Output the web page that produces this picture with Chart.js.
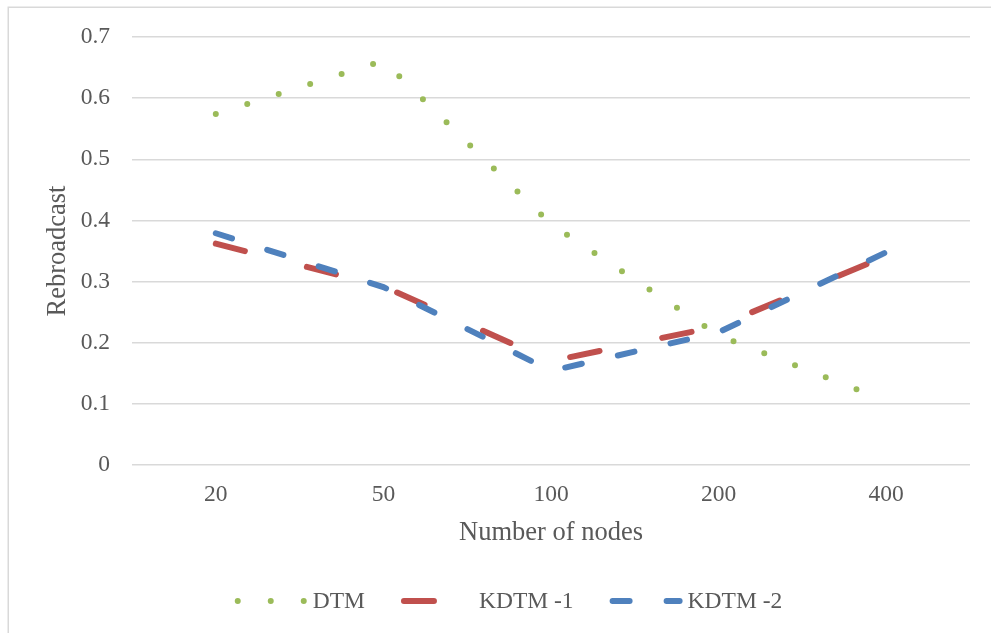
<!DOCTYPE html>
<html><head><meta charset="utf-8">
<script src="https://cdn.jsdelivr.net/npm/chart.js@4.4.0/dist/chart.umd.min.js"></script>
<style>html,body{margin:0;padding:0;background:#fff;overflow:hidden}canvas{display:block}</style>
</head><body>
<canvas id="c" width="991" height="633"></canvas>
<script>
// ---- data ----
const categories = ['20', '50', '100', '200', '400'];
const dtmValues = [0.574, 0.661, 0.394, 0.212, 0.105];
const kdtm1Values = [0.362, 0.292, 0.170, 0.227, 0.342];
const kdtm2Values = [0.379, 0.291, 0.154, 0.217, 0.348];
const seriesNames = ['DTM', 'KDTM -1', 'KDTM -2'];
const xTitle = 'Number of nodes';
const yTitle = 'Rebroadcast';
const yMin = 0, yMax = 0.7, yStep = 0.1;

const FONT = "'Liberation Serif', 'Times New Roman', serif";
const TEXT = '#595959';
const GRID = '#d9d9d9';

const framePlugin = {
  id: 'frame',
  beforeDraw(chart) {
    const ctx = chart.ctx;
    ctx.save();
    ctx.fillStyle = '#fff';
    ctx.fillRect(0, 0, chart.width, chart.height);
    ctx.strokeStyle = GRID;
    ctx.lineWidth = 1.5;
    ctx.strokeRect(8.25, 7.25, chart.width + 100, chart.height + 100);
    ctx.restore();
  }
};

const legendPlugin = {
  id: 'customLegend',
  afterDraw(chart) {
    const ctx = chart.ctx;
    ctx.save();
    ctx.font = '23.5px ' + FONT;
    const sample = 70, textGap = 8, itemGap = 36, lineY = 601, textY = 602;
    const dsets = chart.data.datasets;
    const widths = dsets.map(ds => sample + textGap + ctx.measureText(ds.label).width);
    const total = widths.reduce((a, b) => a + b, 0) + itemGap * (dsets.length - 1);
    let x = 508.5 - total / 2;
    dsets.forEach((ds, i) => {
      ctx.save();
      ctx.strokeStyle = ds.borderColor;
      ctx.lineWidth = ds.borderWidth;
      ctx.lineCap = 'round';
      ctx.setLineDash(ds.borderDash || []);
      ctx.beginPath();
      ctx.moveTo(x + 3, lineY);
      ctx.lineTo(x + sample, lineY);
      ctx.stroke();
      ctx.restore();
      ctx.fillStyle = TEXT;
      ctx.textBaseline = 'middle';
      ctx.textAlign = 'left';
      ctx.fillText(ds.label, x + sample + textGap, textY);
      x += widths[i] + itemGap;
    });
    ctx.restore();
  }
};

new Chart(document.getElementById('c'), {
  type: 'line',
  data: {
    labels: categories,
    datasets: [
      { label: seriesNames[0], data: dtmValues, borderColor: '#9BBB59', borderWidth: 6,
        borderDash: [0, 33], borderCapStyle: 'round', pointRadius: 0, tension: 0, fill: false, order: 2 },
      { label: seriesNames[1], data: kdtm1Values, borderColor: '#C0504D', borderWidth: 6,
        borderDash: [30, 64], borderCapStyle: 'round', pointRadius: 0, tension: 0, fill: false, order: 1 },
      { label: seriesNames[2], data: kdtm2Values, borderColor: '#4F81BD', borderWidth: 6,
        borderDash: [17, 37], borderCapStyle: 'round', pointRadius: 0, tension: 0, fill: false, order: 0 }
    ]
  },
  options: {
    responsive: false,
    animation: false,
    events: [],
    layout: { padding: { top: 37, right: 21, left: 0, bottom: 77 } },
    plugins: { legend: { display: false }, tooltip: { enabled: false } },
    scales: {
      x: {
        offset: true,
        grid: { display: false, drawTicks: false },
        border: { display: false },
        ticks: { color: TEXT, font: { family: FONT, size: 23.5 }, padding: 16, maxRotation: 0 },
        title: { display: true, text: xTitle, color: TEXT, font: { family: FONT, size: 26.5 },
                 padding: { top: 0, bottom: 6.6 } },
        afterFit(scale) { scale.height = 91; }
      },
      y: {
        min: yMin, max: yMax,
        grid: { color: GRID, lineWidth: 1.5, drawTicks: false },
        border: { display: false },
        ticks: { stepSize: yStep, color: TEXT, font: { family: FONT, size: 23.5 }, padding: 22 },
        title: { display: true, text: yTitle, color: TEXT, font: { family: FONT, size: 26.5 },
                 padding: { top: 42, bottom: 0 } },
        afterFit(scale) { scale.width = 132; }
      }
    }
  },
  plugins: [framePlugin, legendPlugin]
});
</script>
</body></html>
